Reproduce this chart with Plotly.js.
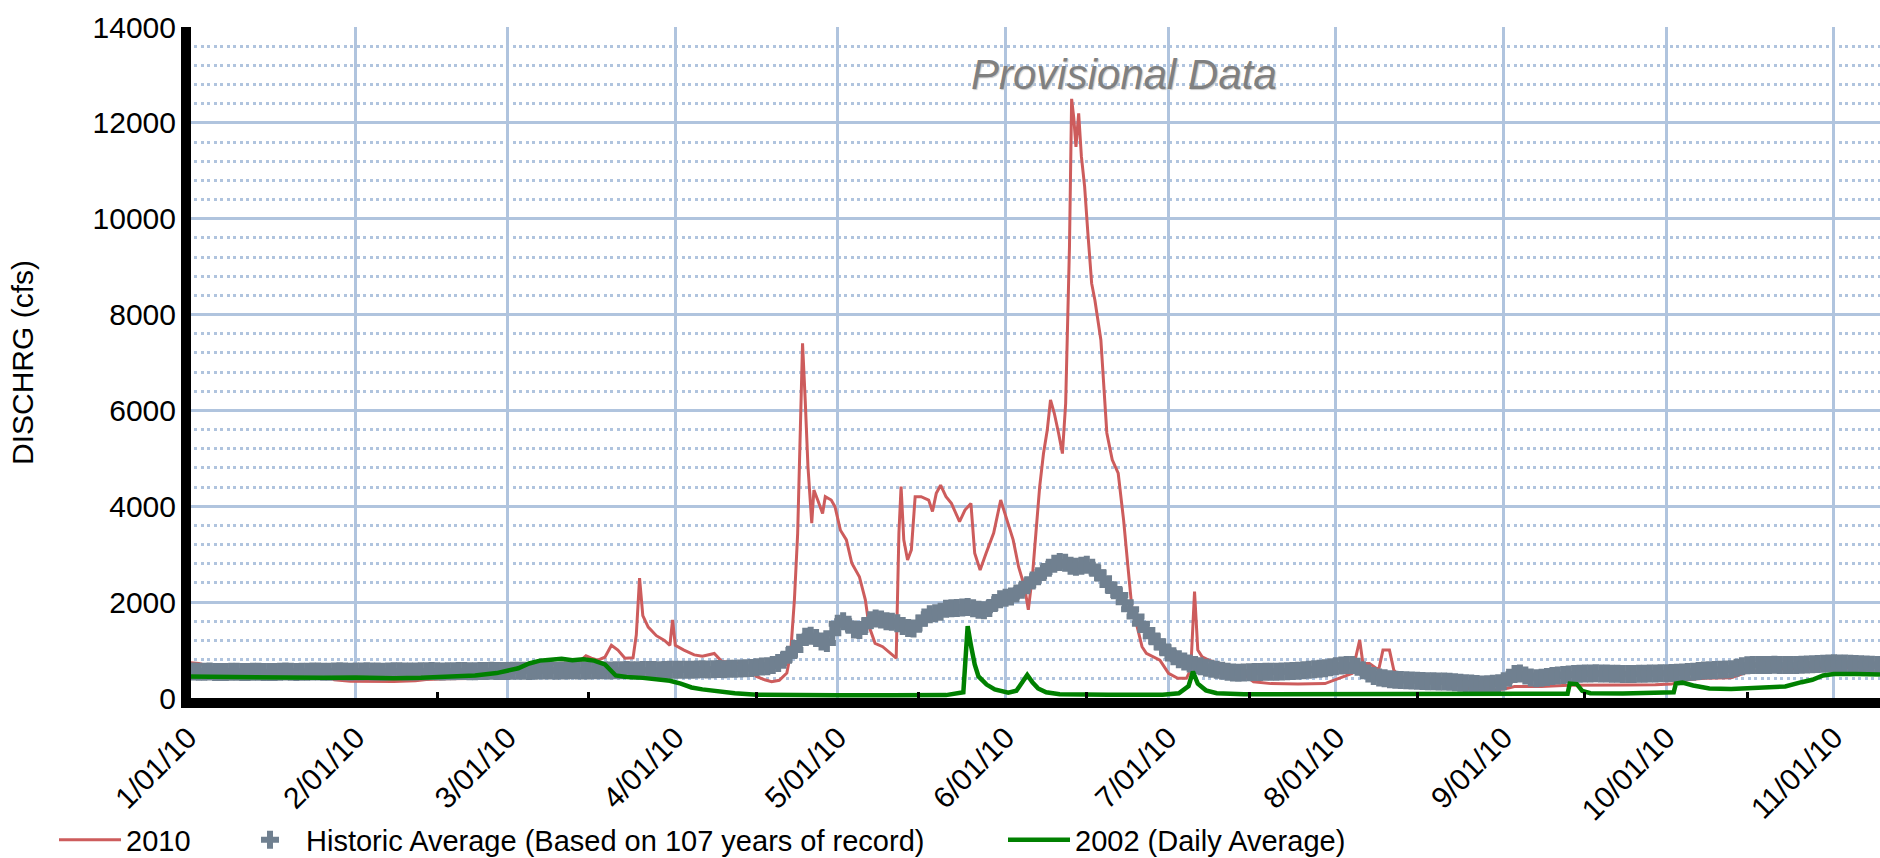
<!DOCTYPE html>
<html><head><meta charset="utf-8">
<script src="https://cdn.plot.ly/plotly-3.0.1.min.js"></script>
<style>html,body{margin:0;padding:0;background:#fff}#chart{width:1880px;height:858px}</style>
</head><body><div id="chart"></div>
<script>
// ---- data (day offsets counted from 1 Jan 2010) ----
const seriesNames = ['2010', 'Historic Average (Based on 107 years of record)', '2002 (Daily Average)'];
const yAxisTitle = 'DISCHRG (cfs)';
const watermark = 'Provisional Data';
const xTickFormat = '%-m/%d/%y';
const midMonthTicks = ['2010-02-16','2010-03-16','2010-04-16','2010-05-16','2010-06-16','2010-07-16','2010-08-16','2010-09-16','2010-10-16'];

const red2010 = [[0,740],[1,735],[2,720],[3,690],[4,640],[6,600],[9,580],[13,565],[18,560],[22,545],[25,500],[27,380],[30,350],[34,340],[38,345],[42,360],[44,385],[48,400],[52,405],[55,430],[57,520],[58.5,640],[60,710],[64,720],[68,715],[71,740],[72.5,780],[73.5,880],[74.5,830],[75.7,790],[77,850],[78.2,1100],[79.4,1000],[80.7,830],[82.2,840],[82.8,1320],[83.4,2500],[84,1720],[85,1480],[86.5,1300],[88,1200],[89,1100],[89.5,1630],[90,1100],[91.6,1000],[93.5,900],[95,870],[97.2,930],[98.6,760],[100.5,740],[102,720],[103.5,600],[105,450],[106.5,380],[107.8,340],[109.2,370],[110.6,520],[111.3,930],[112,2050],[112.6,3430],[113.1,5530],[113.5,7400],[114,6200],[114.5,4830],[115.2,3650],[115.6,4340],[116.3,4130],[117.2,3850],[117.7,4200],[118.8,4130],[119.5,3990],[120.5,3500],[121.6,3300],[122.6,2810],[124,2530],[125.1,2050],[125.8,1490],[126.9,1140],[128.3,1070],[129.7,930],[130.8,830],[131.3,3440],[131.7,4410],[132.2,3300],[132.9,2880],[133.6,3090],[134.3,4200],[135.4,4200],[136.8,4130],[137.5,3890],[138.2,4270],[139,4440],[140,4200],[141,4060],[142.5,3680],[143.5,3920],[144.6,4060],[145.3,3020],[146.3,2670],[147.4,3020],[148.8,3440],[150.1,4130],[151.3,3710],[152.4,3300],[153.4,2740],[154.5,2320],[155.2,1840],[155.5,2180],[156,2600],[156.6,3440],[157.3,4410],[158,5100],[158.7,5590],[159.3,6220],[160,5940],[160.8,5520],[161.5,5100],[162.1,6150],[162.5,7900],[162.8,9400],[163.2,12500],[163.6,12100],[164,11500],[164.5,12200],[165,11300],[165.6,10670],[166.2,9700],[166.9,8650],[167.5,8300],[168.6,7470],[169.7,5530],[170.7,4970],[171.8,4690],[172.8,3710],[173.6,2740],[174.3,1910],[175.3,1490],[176.2,1070],[177,930],[179.5,790],[181.1,515],[182.8,410],[184.4,410],[185.2,590],[185.9,2220],[186.5,1000],[187.3,860],[188.5,790],[190.2,720],[193,620],[195.5,450],[196.8,340],[200,300],[205,290],[210,300],[213.3,445],[215,515],[216.4,1210],[217,720],[218.2,720],[219.9,585],[220.7,1000],[221.9,1000],[222.7,585],[223.8,445],[228,420],[232,400],[235,280],[237,170],[241,160],[243.5,200],[245,240],[250,240],[255,265],[261,275],[266,270],[271,275],[274,290],[277,380],[280,410],[285,420],[288,540],[292,600],[300,620],[312.5,640]];

// historic average, one value per day from 1 Jan
const historicJan = [560,555,550,548,552,545,540,545,550,548,545,542,548,550,545,540,545,548,552,550,545,548,550,555,552,548,550,555,558,552,550];
const historicFeb = [552,555,558,555,552,550,555,558,560,555,552,555,558,560,562,558,555,558,560,562,565,560,558,562,565,568,565,562];
const historicMar = [565,568,570,568,565,568,572,575,572,570,572,575,578,575,572,575,578,580,578,575,578,580,582,580,578,582,585,582,580,585,588];
const historicApr = [588,590,592,590,595,598,595,600,605,602,608,612,615,620,625,640,655,660,690,730,800,900,1000,1150,1280,1300,1250,1180,1150,1350];
const historicMay = [1550,1600,1530,1430,1420,1500,1620,1660,1640,1600,1590,1560,1500,1460,1450,1550,1680,1750,1770,1800,1860,1870,1880,1890,1900,1870,1840,1830,1880,1980,2060];
const historicJun = [2090,2120,2180,2260,2350,2450,2540,2630,2720,2800,2840,2820,2760,2740,2760,2780,2720,2620,2500,2360,2250,2150,2000,1850,1700,1550,1420,1290,1180,1060];
const historicJul = [950,870,810,760,720,690,660,630,610,590,570,550,530,525,530,535,540,545,548,550,548,552,560,565,570,580,590,600,610,620,640];
const historicAug = [660,680,690,690,650,580,510,460,430,410,390,380,375,370,365,360,355,350,348,345,342,340,330,320,310,300,290,280,285,295,310];
const historicSep = [350,420,500,510,470,430,410,420,440,460,470,480,490,500,505,510,512,515,512,510,508,505,502,500,502,505,508,510,512,515];
const historicOct = [515,520,525,530,540,550,565,575,580,585,590,595,600,630,660,685,690,690,688,690,692,690,688,690,690,695,700,705,710,715,720];
const historicNov = [725,722,718,715,710,705,700,695,690];

const green2002 = [[0,450],[5,440],[10,430],[15,420],[20,430],[25,420],[31,430],[38,410],[43,420],[48,440],[53,470],[57,520],[61,620],[63,720],[65,780],[67,800],[69,820],[71,790],[73,810],[75,780],[77,700],[79,470],[81,440],[84,420],[87,390],[89,360],[91,300],[93,220],[95,180],[98,130],[101,100],[105,70],[110,60],[120,55],[130,55],[140,60],[143.2,120],[143.6,900],[144,1500],[144.6,1100],[145.3,700],[146,450],[147.5,280],[149,180],[151.5,110],[153,150],[154.2,350],[155,480],[156,320],[157,200],[158.5,120],[161,80],[170,70],[180,70],[183,100],[184.8,250],[185.6,550],[186.5,300],[188,160],[190,100],[195,80],[210,80],[230,80],[250,85],[254.8,90],[255.2,300],[256.5,290],[257.5,150],[259,100],[265,95],[273,100],[274.4,120],[274.8,300],[276,320],[278,260],[281,200],[285,190],[290,220],[295,240],[298,330],[300,380],[302,470],[304,500],[308,500],[312.5,490]];

// ---- helpers ----
const START = Date.UTC(2010, 0, 1);
function dayToDate(d) {
  return new Date(START + d * 86400000).toISOString().slice(0, 19).replace('T', ' ');
}
const historicValues = [].concat(historicJan, historicFeb, historicMar, historicApr, historicMay,
  historicJun, historicJul, historicAug, historicSep, historicOct, historicNov);

const FONT = '"Liberation Sans", Arial, Helvetica, sans-serif';

const traces = [
  {
    type: 'scatter', mode: 'lines', name: seriesNames[0], legend: 'legend',
    x: red2010.map(p => dayToDate(p[0])), y: red2010.map(p => p[1]),
    line: {color: '#cd5c5c', width: 3}
  },
  {
    type: 'scatter', mode: 'markers', name: seriesNames[1], legend: 'legend2',
    x: historicValues.map((v, i) => dayToDate(i)), y: historicValues,
    marker: {symbol: 'cross', size: 15, color: '#708090', line: {width: 0}}
  },
  {
    type: 'scatter', mode: 'lines', name: seriesNames[2], legend: 'legend3',
    x: green2002.map(p => dayToDate(p[0])), y: green2002.map(p => p[1]),
    line: {color: '#008000', width: 4.5}
  }
];

const legendBase = {
  xref: 'container', yref: 'container', xanchor: 'left', yanchor: 'middle',
  orientation: 'h', bgcolor: 'rgba(0,0,0,0)', borderwidth: 0,
  itemwidth: 62, font: {family: FONT, size: 29, color: '#000'}
};

const layout = {
  width: 1880, height: 858,
  margin: {l: 181, r: 0, t: 27, b: 160, pad: 0},
  paper_bgcolor: '#ffffff', plot_bgcolor: '#ffffff',
  font: {family: FONT, size: 30, color: '#000'},
  showlegend: true,
  legend:  Object.assign({}, legendBase, {x: 54 / 1880, y: 18 / 858}),
  legend2: Object.assign({}, legendBase, {x: 234 / 1880, y: 18 / 858}),
  legend3: Object.assign({}, legendBase, {x: 1003 / 1880, y: 18 / 858}),
  xaxis: {
    type: 'date',
    range: ['2009-12-30 16:58', '2010-11-09 12:00'],
    tickmode: 'linear', tick0: '2010-01-01', dtick: 'M1',
    tickformat: xTickFormat, tickangle: -45,
    tickfont: {family: FONT, size: 30, color: '#000'},
    showgrid: true, gridcolor: '#b0c4de', gridwidth: 3,
    showline: true, linecolor: '#000', linewidth: 10,
    ticks: '', zeroline: false, fixedrange: true,
    minor: {tickmode: 'array', tickvals: midMonthTicks, ticks: 'inside', ticklen: 6, tickwidth: 3, tickcolor: '#000', showgrid: false}
  },
  yaxis: {
    range: [0, 14000], tickmode: 'linear', tick0: 0, dtick: 2000, tickformat: 'd',
    tickfont: {family: FONT, size: 30, color: '#000'},
    showgrid: true, gridcolor: '#b0c4de', gridwidth: 3,
    minor: {dtick: 400, showgrid: true, gridcolor: '#b0c4de', gridwidth: 3, griddash: '3px,3.5px'},
    showline: false, zeroline: false, ticks: '', fixedrange: true,
    ticklabelstandoff: 4,
    title: {text: yAxisTitle, font: {family: FONT, size: 30, color: '#000'}, standoff: 50}
  },
  shapes: [{
    type: 'rect', xref: 'paper', yref: 'paper', xsizemode: 'pixel', xanchor: 0,
    x0: 0, x1: 10, y0: 0, y1: 1, fillcolor: '#000', line: {width: 0}, layer: 'above'
  }],
  annotations: [{
    xref: 'paper', yref: 'paper', x: 0.555, y: 0.929, xanchor: 'center', yanchor: 'middle',
    text: watermark, showarrow: false,
    font: {family: FONT, size: 42, color: '#808080', style: 'italic', shadow: '1px 1px 1px #c8c8c8'}
  }]
};

Plotly.newPlot('chart', traces, layout, {staticPlot: true, displayModeBar: false});
</script>
</body></html>
